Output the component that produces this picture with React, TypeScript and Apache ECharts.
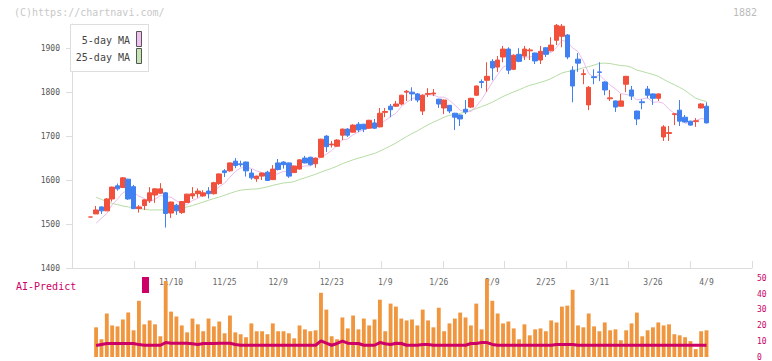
import React, { useEffect, useRef } from "react";
import * as echarts from "echarts";

const categoryCount = 127;
const firstSlot = 3;
const tickLabels = ["11/10", "11/25", "12/9", "12/23", "1/9", "1/26", "2/9", "2/25", "3/11", "3/26", "4/9"];
const tickSlots = [18, 28, 38, 48, 58, 68, 78, 88, 98, 108, 118];
const yTickValues = [1400, 1500, 1600, 1700, 1800, 1900];

const opens = [
  1516, 1523, 1539, 1530, 1557, 1587, 1583, 1602, 1585, 1535,
  1542, 1553, 1566, 1570, 1571, 1525, 1543, 1526, 1549, 1564,
  1569, 1564, 1575, 1569, 1592, 1621, 1621, 1643, 1637, 1641,
  1616, 1603, 1609, 1618, 1601, 1639, 1641, 1639, 1617, 1625,
  1650, 1652, 1637, 1652, 1700, 1680, 1677, 1702, 1716, 1709,
  1727, 1727, 1718, 1730, 1721, 1754, 1768, 1768, 1773, 1800,
  1800, 1796, 1757, 1795, 1796, 1784, 1764, 1770, 1752, 1748,
  1761, 1766, 1793, 1824, 1827, 1870, 1857, 1880, 1898, 1852,
  1886, 1882, 1894, 1889, 1873, 1901, 1894, 1918, 1927, 1930,
  1850, 1875, 1840, 1771, 1835, 1846, 1823, 1785, 1780, 1768,
  1818, 1805, 1757, 1778, 1807, 1796, 1786, 1698, 1706, 1749,
  1759, 1743, 1734, 1733, 1764, 1768,
];
const closes = [
  1516, 1532, 1530, 1557, 1584, 1580, 1605, 1557, 1535, 1539,
  1555, 1571, 1580, 1580, 1524, 1550, 1530, 1551, 1568, 1569,
  1575, 1571, 1569, 1594, 1614, 1617, 1639, 1633, 1635, 1621,
  1605, 1609, 1616, 1599, 1625, 1624, 1635, 1609, 1632, 1646,
  1639, 1635, 1650, 1693, 1676, 1682, 1691, 1716, 1702, 1725,
  1714, 1716, 1736, 1718, 1752, 1756, 1760, 1773, 1793, 1802,
  1796, 1782, 1793, 1797, 1798, 1773, 1782, 1757, 1743, 1739,
  1755, 1786, 1814, 1822, 1836, 1855, 1873, 1898, 1850, 1884,
  1870, 1898, 1896, 1871, 1893, 1886, 1907, 1952, 1950, 1880,
  1814, 1866, 1842, 1811, 1833, 1845, 1805, 1787, 1766, 1780,
  1836, 1791, 1739, 1776, 1793, 1786, 1796, 1721, 1708, 1751,
  1734, 1732, 1725, 1735, 1773, 1730,
];
const lows = [
  1516, 1523, 1523, 1530, 1551, 1576, 1583, 1555, 1535, 1526,
  1532, 1548, 1548, 1569, 1492, 1514, 1521, 1523, 1548, 1557,
  1560, 1562, 1558, 1567, 1589, 1607, 1619, 1627, 1630, 1608,
  1601, 1596, 1600, 1598, 1600, 1622, 1626, 1605, 1616, 1624,
  1638, 1633, 1628, 1651, 1664, 1674, 1676, 1691, 1698, 1708,
  1709, 1709, 1717, 1716, 1720, 1743, 1743, 1767, 1770, 1780,
  1780, 1777, 1748, 1789, 1791, 1764, 1750, 1752, 1714, 1723,
  1750, 1764, 1791, 1809, 1801, 1827, 1846, 1868, 1841, 1850,
  1868, 1873, 1873, 1864, 1864, 1880, 1893, 1907, 1902, 1875,
  1777, 1846, 1818, 1759, 1818, 1825, 1793, 1780, 1755, 1767,
  1800, 1782, 1725, 1761, 1786, 1771, 1780, 1689, 1689, 1725,
  1723, 1731, 1724, 1721, 1763, 1729,
];
const highs = [
  1516, 1541, 1540, 1559, 1585, 1592, 1607, 1603, 1589, 1543,
  1556, 1584, 1581, 1593, 1573, 1551, 1546, 1552, 1569, 1584,
  1581, 1577, 1584, 1596, 1615, 1625, 1640, 1650, 1644, 1642,
  1625, 1610, 1617, 1621, 1634, 1648, 1643, 1640, 1633, 1647,
  1655, 1653, 1651, 1694, 1702, 1689, 1693, 1717, 1718, 1727,
  1732, 1728, 1737, 1739, 1764, 1764, 1773, 1780, 1794, 1805,
  1811, 1798, 1795, 1809, 1807, 1785, 1783, 1771, 1753, 1749,
  1782, 1787, 1815, 1829, 1868, 1875, 1882, 1905, 1902, 1886,
  1900, 1905, 1900, 1890, 1905, 1902, 1925, 1955, 1955, 1932,
  1859, 1889, 1852, 1814, 1852, 1868, 1825, 1805, 1781, 1796,
  1837, 1814, 1758, 1784, 1814, 1797, 1797, 1725, 1723, 1752,
  1782, 1748, 1735, 1741, 1775, 1777,
];

// values read for the start of the window, where earlier closes are not shown
const ma5Lead = [null, 1502, 1513, 1524];
const ma25Lead = [
  null, 1561, 1556, 1551, 1547, 1544, 1541, 1539, 1537, 1535,
  1534, 1532, 1532, 1532, 1532, 1533, 1534, 1536, 1539, 1542,
  1546, 1550, 1554, 1558,
];

const aiBars = [
  null, 18.9, 11.3, 27.7, 20.1, 19.5, 23.9, 28.3, 17.0, 35.8,
  20.8, 23.3, 20.8, 13.2, 48.4, 28.9, 25.8, 20.1, 15.7, 24.5,
  20.8, 16.4, 24.5, 19.5, 22.6, 15.1, 26.4, 15.7, 14.5, 12.6,
  21.4, 16.4, 16.4, 14.5, 21.4, 16.4, 16.4, 15.1, 11.9, 20.1,
  17.6, 16.4, 17.0, 40.9, 30.2, 13.2, 11.3, 25.2, 18.2, 26.4,
  17.6, 24.5, 20.1, 23.9, 36.5, 16.4, 34.0, 32.1, 24.5, 23.3,
  23.9, 20.1, 30.2, 23.3, 18.9, 31.4, 16.4, 21.4, 24.5, 28.3,
  25.2, 20.1, 34.0, 17.6, 49.7, 35.8, 27.7, 21.4, 22.6, 18.2,
  11.3, 20.8, 13.8, 17.6, 18.2, 16.4, 23.3, 22.0, 32.1, 32.7,
  42.8, 20.1, 18.9, 27.7, 19.5, 16.4, 22.0, 17.0, 17.6, 10.7,
  17.0, 21.4, 28.3, 13.2, 17.0, 18.9, 22.0, 20.1, 20.8, 14.5,
  13.8, 12.6, 10.1, 5.0, 16.4, 17.0,
];
const aiLine = [
  null, 7.3, 8.0, 8.6, 8.6, 8.6, 8.6, 8.6, 8.6, 7.9,
  7.5, 7.5, 7.5, 7.5, 9.2, 8.8, 8.8, 8.8, 8.8, 8.4,
  8.0, 8.6, 8.6, 8.6, 8.8, 8.8, 8.8, 8.0, 7.5, 7.5,
  7.5, 7.5, 7.5, 7.5, 7.5, 7.5, 7.5, 7.5, 7.5, 7.5,
  7.5, 7.5, 7.5, 10.3, 8.8, 7.5, 8.6, 10.1, 8.8, 8.6,
  8.6, 7.5, 7.5, 7.5, 9.2, 8.4, 8.0, 8.8, 8.6, 7.5,
  7.5, 7.5, 8.0, 8.0, 7.5, 7.5, 7.5, 7.5, 7.5, 7.5,
  7.5, 8.6, 8.6, 9.2, 9.2, 8.0, 7.5, 7.5, 7.5, 7.5,
  7.5, 7.5, 7.5, 7.5, 7.5, 7.5, 7.5, 8.0, 8.0, 8.0,
  8.0, 7.5, 7.5, 7.5, 7.5, 7.5, 7.5, 7.5, 7.5, 7.5,
  7.5, 7.5, 7.5, 7.5, 7.5, 7.5, 7.5, 7.5, 7.5, 7.5,
  7.5, 7.5, 7.5, 7.5, 7.5, 7.5,
];

const MONO = "'DejaVu Sans Mono', monospace";
const UP = "#f0503c";
const DOWN = "#4080f0";
const MA5_COLOR = "#eabdee";
const MA25_COLOR = "#b6dca4";
const AI_COLOR = "#cc0066";

function movingAverage(values: number[], n: number, lead: (number | null)[]) {
  return values.map((_, k) => {
    if (k >= n - 1) {
      let s = 0;
      for (let j = k - n + 1; j <= k; j++) s += values[j];
      return s / n;
    }
    return lead[k] ?? null;
  });
}

function pairs(vals: (number | null)[]) {
  return vals.map((v, k) => [firstSlot + k, v == null ? "-" : v]);
}

export default function App() {
  const ref = useRef<HTMLDivElement>(null);
  useEffect(() => {
    if (!ref.current) return;
    const chart = echarts.init(ref.current, undefined, { renderer: "svg" });
    const categories = Array.from({ length: categoryCount }, (_, i) => String(i));
    const labelFor = (idx: number) => {
      const k = tickSlots.indexOf(idx);
      return k >= 0 ? tickLabels[k] : "";
    };
    const candles = opens.map((o, k) => [firstSlot + k, o, closes[k], lows[k], highs[k]]);
    const ma5 = movingAverage(closes, 5, ma5Lead);
    const ma25 = movingAverage(closes, 25, ma25Lead);

    chart.setOption({
      animation: false,
      backgroundColor: "#fff",
      grid: [
        { left: 72, right: 20, top: 24, bottom: 93 },
        { left: 72, right: 20, top: 278.5, bottom: 3 },
      ],
      xAxis: [
        {
          type: "category",
          gridIndex: 0,
          data: categories,
          boundaryGap: true,
          position: "bottom",
          axisLine: { show: true, onZero: false, lineStyle: { color: "#dddddd" } },
          axisTick: { show: false },
          axisLabel: {
            interval: (idx: number) => tickSlots.indexOf(idx) >= 0,
            formatter: (_v: string, idx: number) => labelFor(idx),
            color: "#666",
            fontFamily: MONO,
            fontSize: 8,
            margin: 10,
          },
          splitLine: { show: false },
        },
        {
          type: "value",
          gridIndex: 0,
          min: 0,
          max: 11,
          interval: 1,
          position: "bottom",
          axisLine: { show: false, onZero: false },
          axisTick: { show: true, inside: true, length: 7, lineStyle: { color: "#dddddd" } },
          axisLabel: { show: false },
          splitLine: { show: false },
        },
        {
          type: "category",
          gridIndex: 1,
          data: categories,
          boundaryGap: true,
          show: false,
        },
      ],
      yAxis: [
        {
          type: "value",
          gridIndex: 0,
          min: 1400,
          max: 1955,
          interval: 100,
          axisLine: { show: true, lineStyle: { color: "#dddddd" } },
          axisTick: { show: true, length: 6, lineStyle: { color: "#dddddd" }, customValues: yTickValues },
          axisLabel: {
            color: "#555",
            fontFamily: MONO,
            fontSize: 8,
            margin: 12,
            customValues: yTickValues,
            formatter: (v: number) => String(v),
          },
          splitLine: { show: false },
        },
        {
          type: "value",
          gridIndex: 1,
          min: 0,
          max: 50,
          interval: 10,
          position: "right",
          axisLine: { show: false },
          axisTick: { show: false },
          axisLabel: { color: AI_COLOR, fontFamily: MONO, fontSize: 8, margin: 5, formatter: (v: number) => String(v) },
          splitLine: { show: false },
        },
      ],
      series: [
        {
          name: "25-day MA",
          type: "line",
          xAxisIndex: 0,
          yAxisIndex: 0,
          data: pairs(ma25),
          symbol: "none",
          lineStyle: { color: MA25_COLOR, width: 1 },
          z: 1,
        },
        {
          name: "5-day MA",
          type: "line",
          xAxisIndex: 0,
          yAxisIndex: 0,
          data: pairs(ma5),
          symbol: "none",
          lineStyle: { color: MA5_COLOR, width: 1 },
          z: 1,
        },
        {
          name: "price",
          type: "candlestick",
          xAxisIndex: 0,
          yAxisIndex: 0,
          data: candles,
          encode: { x: 0, y: [1, 2, 3, 4] },
          barWidth: 5,
          itemStyle: {
            color: UP,
            color0: DOWN,
            borderColor: UP,
            borderColor0: DOWN,
            borderWidth: 1,
          },
          z: 2,
        },
        {
          name: "AI bars",
          type: "bar",
          xAxisIndex: 2,
          yAxisIndex: 1,
          data: pairs(aiBars),
          barWidth: "72%",
          itemStyle: { color: "#f0963e" },
          z: 1,
        },
        {
          name: "AI-Predict",
          type: "line",
          xAxisIndex: 2,
          yAxisIndex: 1,
          data: pairs(aiLine),
          symbol: "none",
          lineStyle: { color: AI_COLOR, width: 3 },
          z: 2,
        },
      ],
      graphic: [
        {
          type: "text",
          x: 14,
          y: 12,
          z: 100,
          style: { text: "(C)https://chartnavi.com/", fill: "#c8c8c8", font: `10px ${MONO}`, verticalAlign: "middle" },
        },
        {
          type: "text",
          x: 757,
          y: 12,
          z: 100,
          style: { text: "1882", fill: "#bbbbbb", font: `10px ${MONO}`, align: "right", verticalAlign: "middle" },
        },
        {
          type: "rect",
          z: 100,
          shape: { x: 70.5, y: 24.5, width: 78, height: 47 },
          style: { fill: "#fff", stroke: "#dddddd", lineWidth: 1 },
        },
        {
          type: "text",
          x: 130,
          y: 40.5,
          z: 101,
          style: { text: "5-day MA", fill: "#444", font: `10px ${MONO}`, align: "right", verticalAlign: "middle" },
        },
        {
          type: "rect",
          z: 101,
          shape: { x: 136.5, y: 31.5, width: 5, height: 15 },
          style: { fill: "#f0c0f0", stroke: "#555", lineWidth: 1 },
        },
        {
          type: "text",
          x: 130,
          y: 57,
          z: 101,
          style: { text: "25-day MA", fill: "#444", font: `10px ${MONO}`, align: "right", verticalAlign: "middle" },
        },
        {
          type: "rect",
          z: 101,
          shape: { x: 136.5, y: 48.5, width: 5, height: 15 },
          style: { fill: "#c4e4b4", stroke: "#555", lineWidth: 1 },
        },
        {
          type: "text",
          x: 16,
          y: 286,
          z: 100,
          style: { text: "AI-Predict", fill: AI_COLOR, font: `10px ${MONO}`, verticalAlign: "middle" },
        },
        {
          type: "rect",
          z: 100,
          shape: { x: 142, y: 277, width: 7, height: 16 },
          style: { fill: AI_COLOR },
        },
      ],
    });
    return () => chart.dispose();
  }, []);
  return (
    <div
      ref={ref}
      style={{ position: "fixed", left: 0, top: 0, width: 772, height: 361, background: "#fff" }}
    />
  );
}
